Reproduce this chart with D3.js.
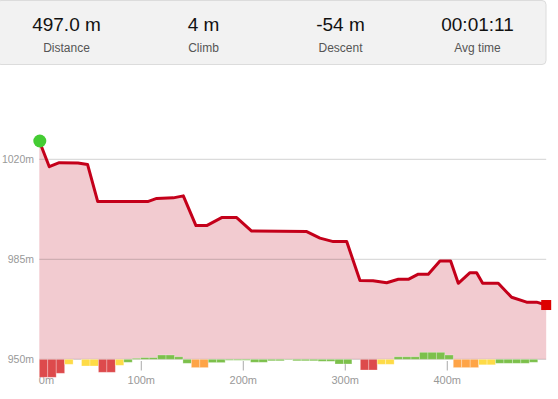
<!DOCTYPE html>
<html>
<head>
<meta charset="utf-8">
<script src="https://cdn.jsdelivr.net/npm/d3@7"></script>
<style>
  html, body { margin: 0; padding: 0; background: #fff; }
  svg { display: block; font-family: "Liberation Sans", Arial, sans-serif; }
</style>
</head>
<body>
<div id="chart"></div>
<script>
// summary panel
const statValues = ['497.0 m', '4 m', '-54 m', '00:01:11'];
const statLabels = ['Distance', 'Climb', 'Descent', 'Avg time'];

// elevation profile (distance m, elevation m)
const dist = [0, 9.8, 19.6, 37.9, 47.3, 57.3, 106.3, 115.1, 131.4, 141.2, 153.6, 164.1, 178.8, 193.5,
  208.2, 262.2, 275.2, 288.2, 301.4, 314.4, 327.2, 340.6, 352, 361.8, 371.6, 381.4, 392.8, 403.3,
  410.8, 422.3, 428.8, 434.7, 450, 463.1, 477.8, 487.6, 497];
const elev = [1026.4, 1017.4, 1018.8, 1018.7, 1018.2, 1005.2, 1005.2, 1006.3, 1006.5, 1007.2, 996.8, 996.8,
  999.6, 999.6, 994.9, 994.7, 992.4, 991.2, 991.2, 977.6, 977.5, 976.8, 978, 978, 979.8, 979.8, 984.4,
  984.4, 976.6, 980.3, 980.3, 976.6, 976.6, 971.7, 970, 970, 969];

// grade bars, 60 equal segments
const grades = [-18, -18, -14, -5, 0, -6.7, -6.7, -13, -13, -6, -3, 1, 1.7, 1.7, 4.3, 4.3, 2.5, -4, -8.3, -8.3,
  -3.3, -3.3, -1, -1, -1, -3, -3, -1.5, -1.5, -0.5, -1.5, -1.5, -1.5, -2, -2, -4.7, -4.7, 0, -10.7, -10.7,
  -5, -5, 2.5, 2.5, 2.5, 7, 7, 7, 4.3, -8.3, -8.3, -8.3, -5.5, -5.5, -4, -4, -4, -4, -3, 0];

const yTicks = [950, 985, 1020];
const xTicks = [0, 100, 200, 300, 400];
const totalDist = 497;

const W = 558, H = 399;
const svg = d3.select('#chart').append('svg').attr('width', W).attr('height', H);

// header
svg.append('rect').attr('x', -3).attr('y', 0.5).attr('width', 549).attr('height', 64).attr('rx', 4)
  .attr('fill', '#f2f2f2').attr('stroke', '#dcdcdc');
const colX = d3.scaleBand().domain(d3.range(4)).range([-2, 546]);
statValues.forEach((v, i) => {
  const cx = colX(i) + colX.bandwidth() / 2;
  svg.append('text').attr('x', cx).attr('y', 31).attr('text-anchor', 'middle')
    .attr('font-size', 19).attr('fill', '#111').text(v);
  svg.append('text').attr('x', cx).attr('y', 52).attr('text-anchor', 'middle')
    .attr('font-size', 12).attr('fill', '#555').text(statLabels[i]);
});

const x = d3.scaleLinear().domain([0, totalDist]).range([39.3, 546.2]);
const y = d3.scaleLinear().domain([950, 1020]).range([359.3, 159.3]);
const g = d3.scaleLinear().domain([-20, 20]).range([y(950) + 20, y(950) - 20]);

const pts = dist.map((d, i) => [d, elev[i]]);

// area
svg.append('path').datum(pts)
  .attr('d', d3.area().x(d => x(d[0])).y0(y(950)).y1(d => y(d[1])))
  .attr('fill', '#f2cbd0');

// grid
yTicks.forEach(t => {
  svg.append('line').attr('x1', x(0)).attr('x2', x(totalDist)).attr('y1', y(t)).attr('y2', y(t))
    .attr('stroke', 'rgba(0,0,0,0.18)').attr('stroke-width', 1);
  svg.append('text').attr('x', 34).attr('y', y(t) + 3.5).attr('text-anchor', 'end')
    .attr('font-size', 10.5).attr('fill', '#999').text(t + 'm');
});

// x ticks
xTicks.forEach(t => {
  if (t > 0) {
    svg.append('line').attr('x1', x(t)).attr('x2', x(t)).attr('y1', 361).attr('y2', 370.5)
      .attr('stroke', '#aaa');
  }
  svg.append('text').attr('x', t === 0 ? x(0) - 0.5 : x(t)).attr('y', 383.5)
    .attr('text-anchor', t === 0 ? 'start' : 'middle')
    .attr('font-size', 11).attr('fill', '#999').text(t + 'm');
});

// grade bars
const step = totalDist / grades.length;
const gradeColor = v => v >= -4.8 ? '#7cc04b' : v > -7.5 ? '#fedb47' : v > -10 ? '#fea447' : '#dd4a4c';
grades.forEach((v, i) => {
  if (v === 0) return;
  const y0 = g(0), y1 = g(v);
  svg.append('rect').attr('x', x(i * step)).attr('width', x((i + 1) * step) - x(i * step))
    .attr('y', Math.min(y0, y1)).attr('height', Math.abs(y1 - y0))
    .attr('fill', gradeColor(v)).attr('stroke', 'rgba(255,255,255,0.35)').attr('stroke-width', 0.8);
});

// line
svg.append('path').datum(pts)
  .attr('d', d3.line().x(d => x(d[0])).y(d => y(d[1])))
  .attr('fill', 'none').attr('stroke', '#c4001a').attr('stroke-width', 3).attr('stroke-linejoin', 'round');

// start / end markers
const first = pts[0], last = pts[pts.length - 1];
svg.append('circle').attr('cx', x(first[0]) + 0.5).attr('cy', y(first[1])).attr('r', 6.5).attr('fill', '#44cc33');
svg.append('rect').attr('x', x(last[0]) - 5).attr('y', y(last[1]) - 5).attr('width', 10).attr('height', 10)
  .attr('fill', '#dd0000');
</script>
</body>
</html>
